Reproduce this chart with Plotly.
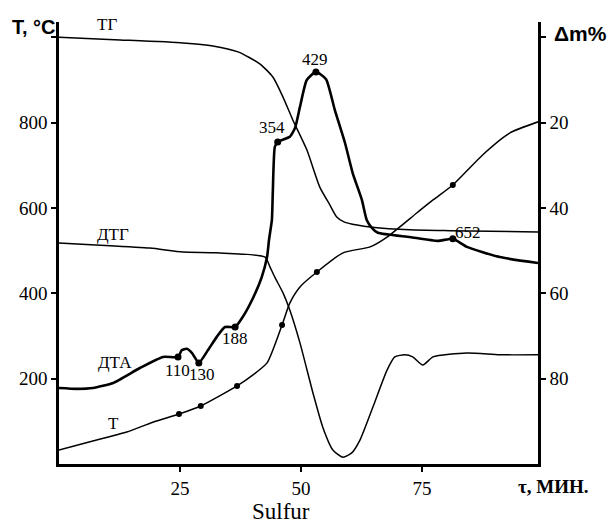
import plotly.graph_objects as go

# ---- data (time in minutes) ----
tg_t = [0, 12.6, 25.6, 31.8, 37.0, 41.5, 44.2, 46.3, 48.3, 51.2, 53.9, 56.0, 57.4, 59.0, 61.6, 64.7, 72.5, 80.8, 99]
tg_dm = [0, 0.6, 1.3, 2.0, 3.4, 6.2, 9.3, 14.0, 19.3, 26.3, 35.1, 39.3, 42.1, 43.3, 44.0, 44.5, 45.1, 45.3, 45.6]

temp_t = [0, 6.4, 14.0, 19.4, 24.8, 29.3, 36.8, 40.1, 43.0, 46.1, 47.7, 49.8, 53.3, 58.7, 64.3, 67.8, 74.0, 77.3, 81.4, 87.6, 93.2, 99]
temp_v = [33, 52, 75, 98, 117, 136, 183, 209, 237, 326, 377, 415, 450, 495, 509, 532, 589, 619, 654, 725, 776, 802]
temp_dot_t = [24.8, 29.3, 36.8, 46.1, 53.3, 81.4]
temp_dot_v = [117, 136, 183, 326, 450, 654]

dta_t = [0, 3.7, 7.0, 11.2, 16.7, 21.5, 24.6, 25.4, 26.4, 27.5, 28.9, 30.8, 32.6, 34.3, 36.4, 38.0, 40.1, 41.9, 43.0, 43.4,
         44.0, 44.2, 44.6, 45.2, 47.7, 48.8, 49.8, 51.2, 53.1, 55.2, 57.0, 59.1, 60.7, 62.6, 63.6, 64.7, 65.9, 72.5, 78.3, 81.4,
         84.3, 91.1, 99]
dta_v = [178, 176, 178, 190, 225, 251, 251, 267, 270, 260, 237, 267, 298, 321, 321, 345, 389, 438, 485, 525,
         572, 642, 743, 755, 767, 788, 837, 900, 919, 902, 830, 753, 682, 619, 572, 553, 542, 532, 523, 528,
         509, 485, 471]
dta_dot_t = [24.6, 28.9, 36.4, 45.2, 53.1, 81.4]
dta_dot_v = [251, 237, 321, 755, 919, 528]
dta_peaks = ["110", "130", "188", "354", "429", "652"]

dtg_t = [0, 8.5, 18.8, 25.6, 32.6, 42.6, 43.6, 44.6, 46.3, 47.7, 49.8, 52.5, 54.5, 56.6, 58.7, 60.5, 62.2, 64.9, 67.8,
         69.4, 71.5, 73.1, 75.2, 77.3, 84.3, 91.1, 99]
dtg_v = [518, 513, 506, 497, 495, 485, 462, 438, 401, 361, 284, 166, 87, 33, 16, 26, 56, 134, 220,
         251, 256, 251, 232, 251, 260, 256, 256]

x_ticks = [25, 50, 75]
t_ticks = [200, 400, 600, 800, 1000]
t_ticktext = ["200", "400", "600", "800", ""]
dm_ticks = [0, 20, 40, 60, 80]
dm_ticktext = ["", "20", "40", "60", "80"]

SERIF = "Times New Roman, Liberation Serif, DejaVu Serif, serif"
SANS = "Arial, Liberation Sans, sans-serif"
BLACK = "#000000"

fig = go.Figure()
fig.add_trace(go.Scatter(x=tg_t, y=tg_dm, yaxis="y2", mode="lines",
                         line=dict(color=BLACK, width=1.5, shape="spline", smoothing=0.6)))
fig.add_trace(go.Scatter(x=dtg_t, y=dtg_v, mode="lines",
                         line=dict(color=BLACK, width=1.5, shape="spline", smoothing=0.6)))
fig.add_trace(go.Scatter(x=temp_t, y=temp_v, mode="lines",
                         line=dict(color=BLACK, width=1.5, shape="spline", smoothing=0.6)))
fig.add_trace(go.Scatter(x=temp_dot_t, y=temp_dot_v, mode="markers",
                         marker=dict(color=BLACK, size=6)))
fig.add_trace(go.Scatter(x=dta_t, y=dta_v, mode="lines",
                         line=dict(color=BLACK, width=2.6, shape="spline", smoothing=0.5)))
fig.add_trace(go.Scatter(x=dta_dot_t, y=dta_dot_v, mode="markers",
                         marker=dict(color=BLACK, size=7)))

ann = []
curve_labels = [("ТГ", 9.9, 1029), ("ДТГ", 11.2, 537), ("ДТА", 11.6, 237), ("T", 11.2, 96)]
for txt, x, y in curve_labels:
    ann.append(dict(text=txt, x=x, y=y, xref="x", yref="y", showarrow=False,
                    xanchor="center", yanchor="middle",
                    font=dict(family=SERIF, size=17, color=BLACK)))
peak_pos = [(24.4, 220), (29.5, 209), (36.4, 295), (44.0, 788), (52.9, 947), (84.5, 542)]
for txt, (x, y) in zip(dta_peaks, peak_pos):
    ann.append(dict(text=txt, x=x, y=y, xref="x", yref="y", showarrow=False,
                    xanchor="center", yanchor="middle",
                    font=dict(family=SERIF, size=17, color=BLACK)))

ann.append(dict(text="<b>T, °C</b>", x=-0.052, y=0.989, xref="paper", yref="paper", showarrow=False,
                xanchor="center", yanchor="middle",
                font=dict(family=SANS, size=20, color=BLACK)))
ann.append(dict(text="<b>Δm%</b>", x=1.088, y=0.975, xref="paper", yref="paper", showarrow=False,
                xanchor="center", yanchor="middle",
                font=dict(family=SANS, size=21, color=BLACK)))
ann.append(dict(text="<b>τ, МИН.</b>", x=1.033, y=-0.052, xref="paper", yref="paper", showarrow=False,
                xanchor="center", yanchor="middle",
                font=dict(family=SERIF, size=19, color=BLACK)))
ann.append(dict(text="Sulfur", x=0.463, y=-0.108, xref="paper", yref="paper", showarrow=False,
                xanchor="center", yanchor="middle",
                font=dict(family=SERIF, size=23, color=BLACK)))

fig.update_layout(
    width=610, height=524,
    margin=dict(l=59, r=72, t=22, b=60),
    paper_bgcolor="white", plot_bgcolor="white",
    showlegend=False,
    annotations=ann,
    xaxis=dict(range=[0, 99], showgrid=False, zeroline=False, showline=True, linecolor=BLACK, linewidth=2.5,
               ticks="outside", ticklen=5, tickwidth=2, tickcolor=BLACK, tickvals=x_ticks,
               tickfont=dict(family=SERIF, size=19, color=BLACK)),
    yaxis=dict(range=[0, 1036], showgrid=False, zeroline=False, showline=True, linecolor=BLACK, linewidth=2.5,
               ticks="outside", ticklen=5, tickwidth=2, tickcolor=BLACK, tickvals=t_ticks, ticktext=t_ticktext,
               tickfont=dict(family=SERIF, size=19, color=BLACK)),
    yaxis2=dict(range=[100, -3.6], overlaying="y", side="right", showgrid=False, zeroline=False,
                showline=True, linecolor=BLACK, linewidth=2.5,
                ticks="outside", ticklen=5, tickwidth=2, tickcolor=BLACK, tickvals=dm_ticks, ticktext=dm_ticktext,
                tickfont=dict(family=SERIF, size=19, color=BLACK)),
)

fig.write_html("out.html")
